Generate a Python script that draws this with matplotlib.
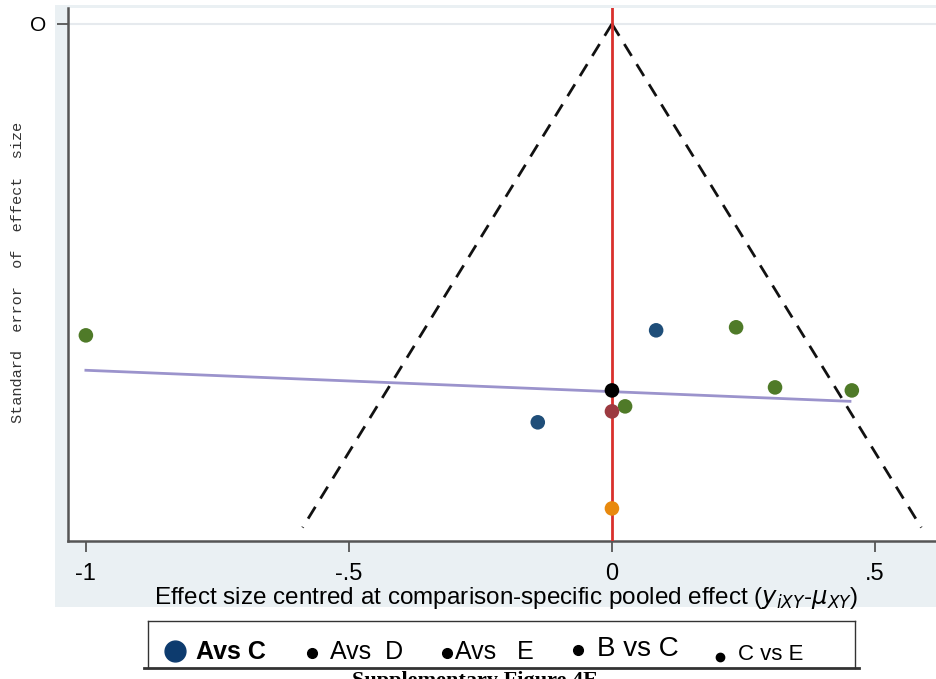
import matplotlib.pyplot as plt
import numpy as np
from matplotlib.patches import Rectangle
from matplotlib.lines import Line2D

# centred effect sizes and their standard errors
effect = [-1.0, 0.084, 0.236, 0.310, 0.456, 0.0, 0.025, 0.0, -0.141, 0.0]
se = [0.1855, 0.1825, 0.1807, 0.2165, 0.2183, 0.2183, 0.2278, 0.2308, 0.2373, 0.2886]
point_colors = ['#4f7a28', '#1f4e79', '#4f7a28', '#4f7a28', '#4f7a28',
                '#000000', '#4f7a28', '#9c3a40', '#1f4e79', '#e8890e']

# funnel (pseudo 95% limits) and fitted line
se_max = 0.300
fit_x = [-1.0, 0.4525]
fit_y = [0.2063, 0.2248]

xticks = [-1, -0.5, 0, 0.5]
xticklabels = ['-1', '-.5', '0', '.5']

legend_labels = ['Avs C', 'Avs  D', 'Avs   E', 'B vs C', 'C vs E']

W, H = 936, 679
fig = plt.figure(figsize=(W / 100, H / 100), dpi=100)

def fx(px):
    return px / W

def fy(py):
    return 1 - py / H

# grey stata-like background
fig.patches.append(Rectangle((fx(55), fy(607)), 1 - fx(55), fy(5) - fy(607),
                             transform=fig.transFigure, facecolor='#eaf0f3',
                             edgecolor='none', zorder=0))

ax = fig.add_axes([fx(68), fy(541), 1 - fx(68), fy(8) - fy(541)])
ax.set_zorder(2)
ax.set_facecolor('white')

ax.set_xlim(-1.034, 0.616)
ax.set_ylim(0.308, -0.0095)

ax.axhline(0, color='#e6eaee', lw=1.5, zorder=1)

ax.plot([0, -1.96 * se_max], [0, se_max], ls=(0, (5, 3.5)), color='#111111', lw=2, zorder=2)
ax.plot([0, 1.96 * se_max], [0, se_max], ls=(0, (5, 3.5)), color='#111111', lw=2, zorder=2)
ax.axvline(0, color='#d9302c', lw=2, zorder=3)
ax.plot(fit_x, fit_y, color='#9b93cc', lw=2, zorder=3)

ax.scatter(effect, se, s=110, c=point_colors, edgecolors='none', zorder=4)

for side in ['top', 'right']:
    ax.spines[side].set_visible(False)
for side in ['left', 'bottom']:
    ax.spines[side].set_color('#555555')
    ax.spines[side].set_linewidth(1.8)

ax.set_xticks(xticks)
ax.set_xticklabels(xticklabels, fontsize=17, family='Liberation Sans')
ax.set_yticks([0])
ax.set_yticklabels(['O'], fontsize=15, family='Liberation Sans')
ax.tick_params(axis='both', length=8, width=1.3, color='#555555', pad=8)

ax.set_xlabel(r'Effect size centred at comparison-specific pooled effect ($y_{iXY}$-$\mu_{XY}$)',
              fontsize=17.5, family='Liberation Sans', labelpad=0)
ax.xaxis.set_label_coords(0.505, -0.082)
fig.text(fx(18), fy(272), 'Standard  error  of  effect  size', rotation=90,
         fontsize=11, family='Liberation Mono', color='#333333', ha='center', va='center')

# hand-made legend box
box_l, box_r, box_t, box_b = 148, 855, 621, 668
fig.add_artist(Line2D([fx(box_l), fx(box_r)], [fy(box_t), fy(box_t)], color='#333333', lw=1))
fig.add_artist(Line2D([fx(box_l - 4), fx(box_r + 4)], [fy(box_b), fy(box_b)], color='#333333', lw=2))
fig.add_artist(Line2D([fx(box_l), fx(box_l)], [fy(box_t), fy(box_b)], color='#333333', lw=1))
fig.add_artist(Line2D([fx(box_r), fx(box_r)], [fy(box_t), fy(box_b)], color='#333333', lw=1))

dot_px = [(175, 651), (312, 653), (447, 653), (578, 650), (720, 657)]
dot_sizes = [15, 7, 7, 7, 6]
dot_colors = ['#0d3b6e', 'black', 'black', 'black', 'black']
text_px = [(196, 652), (330, 652), (455, 652), (597, 649), (738, 655)]
text_sizes = [18, 18, 18, 20, 16]
text_weights = ['bold', 'normal', 'normal', 'normal', 'normal']

for i, lab in enumerate(legend_labels):
    dx, dy = dot_px[i]
    fig.add_artist(Line2D([fx(dx)], [fy(dy)], marker='o', ms=dot_sizes[i],
                          color=dot_colors[i], ls='none'))
    tx, ty = text_px[i]
    fig.text(fx(tx), fy(ty), lab, fontsize=text_sizes[i], fontweight=text_weights[i],
             family='Liberation Sans', ha='left', va='center')

fig.text(fx(475), fy(671), 'Supplementary Figure 4E', fontsize=16, fontweight='bold',
         family='Liberation Serif', ha='center', va='top')

plt.savefig('out.png', dpi=100)
